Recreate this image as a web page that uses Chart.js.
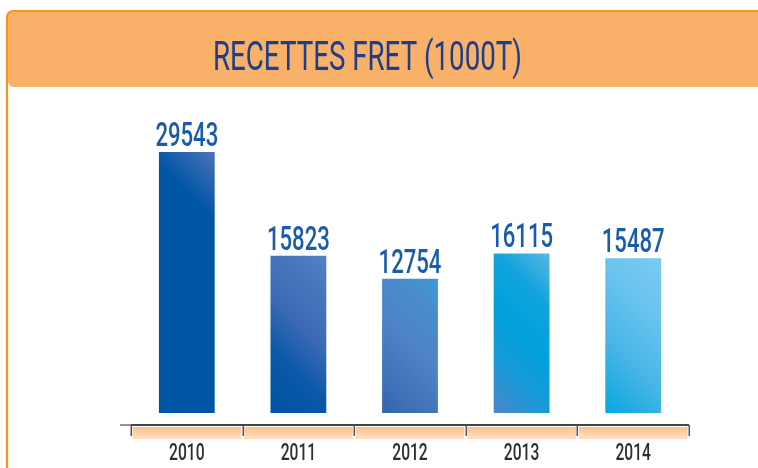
<!DOCTYPE html>
<html>
<head>
<meta charset="utf-8">
<script src="https://cdn.jsdelivr.net/npm/chart.js@4.4.1/dist/chart.umd.min.js"></script>
<style>
html,body{margin:0;padding:0;background:#ffffff;}
canvas{display:block;}
</style>
</head>
<body>
<canvas id="c" width="758" height="468"></canvas>
<script>
// ---- data ----
const chartTitle = 'RECETTES FRET (1000T)';
const years = ['2010', '2011', '2012', '2013', '2014'];
const recettes = [29543, 15823, 12754, 16115, 15487];

// hidden value-axis settings (bars in the source are decorative, start above the axis line)
const barBase = -5000;
const axisMin = -6600;

// ---- styles ----
const barStops = [
  [[0, '#0054A4'], [0.78, '#0055A5'], [1, '#4A74B8']],
  [[0, '#0052A2'], [0.3, '#0A58A8'], [0.55, '#3A6AB4'], [1, '#5381C4']],
  [[0, '#3365AF'], [0.5, '#4D83C5'], [0.8, '#4A8CCB'], [1, '#3A9AD6']],
  [[0, '#4C86C8'], [0.25, '#1A98D6'], [0.5, '#00A0DC'], [0.75, '#12A3DD'], [1, '#5BB6E6']],
  [[0, '#08A6E0'], [0.35, '#45B5E6'], [0.7, '#6AC3EE'], [1, '#7ACBF1']]
];
const BAR_PCT = 0.5;
const FONT = 'Roboto, "Open Sans", "DejaVu Sans", sans-serif';

function condensedText(ctx, text, cx, baseline, font, color, sx) {
  ctx.save();
  ctx.font = font;
  ctx.translate(cx, baseline);
  ctx.scale(sx, 1);
  ctx.textAlign = 'center';
  ctx.textBaseline = 'alphabetic';
  ctx.fillStyle = color;
  ctx.fillText(text, 0, 0);
  ctx.restore();
}

const framePlugin = {
  id: 'frame',
  beforeDraw(chart) {
    const ctx = chart.ctx;
    ctx.save();
    ctx.fillStyle = '#ffffff';
    ctx.fillRect(0, 0, chart.width, chart.height);
    // header band
    const r = 6;
    ctx.fillStyle = '#F9B068';
    ctx.beginPath();
    ctx.moveTo(8, 12);
    ctx.lineTo(chart.width, 12);
    ctx.lineTo(chart.width, 87);
    ctx.lineTo(8 + r, 87);
    ctx.arcTo(8, 87, 8, 87 - r, r);
    ctx.closePath();
    ctx.fill();
    // outer border
    ctx.strokeStyle = '#F7941D';
    ctx.lineWidth = 2.2;
    ctx.beginPath();
    ctx.moveTo(7, chart.height + 2);
    ctx.lineTo(7, 11 + r);
    ctx.arcTo(7, 11, 7 + r, 11, r);
    ctx.lineTo(chart.width + 2, 11);
    ctx.stroke();
    // title
    const tf = '400 40px ' + FONT;
    ctx.font = tf;
    const w = ctx.measureText(chartTitle).width;
    condensedText(ctx, chartTitle, 367.5, 70, tf, '#1C3F8C', 309 / w);
    ctx.restore();
  }
};

const labelPlugin = {
  id: 'valueLabels',
  afterDatasetsDraw(chart) {
    const ctx = chart.ctx;
    const meta = chart.getDatasetMeta(0);
    meta.data.forEach((bar, i) => {
      condensedText(ctx, String(recettes[i]), bar.x, bar.y - 6,
        '500 34px ' + FONT, '#1A5CAA', 0.65);
    });
  }
};

const axisPlugin = {
  id: 'boxAxis',
  afterDraw(chart) {
    const ctx = chart.ctx;
    const xs = chart.scales.x;
    const yAxis = chart.chartArea.bottom;
    const n = years.length;
    const catW = xs.width / n;
    ctx.save();
    // label boxes
    for (let k = 0; k < n; k++) {
      const l = xs.left + k * catW + 1.5;
      const rr = xs.left + (k + 1) * catW - 1.5;
      const g = ctx.createLinearGradient(0, yAxis + 2, 0, yAxis + 14);
      g.addColorStop(0, '#FBC28A');
      g.addColorStop(1, '#FEE0C3');
      ctx.fillStyle = g;
      ctx.fillRect(l, yAxis + 2, rr - l, 12);
    }
    // axis line
    ctx.strokeStyle = '#8a8a8a';
    ctx.lineWidth = 1.8;
    ctx.beginPath();
    ctx.moveTo(xs.left - 11, yAxis);
    ctx.lineTo(xs.left, yAxis);
    ctx.stroke();
    ctx.strokeStyle = '#444444';
    ctx.beginPath();
    ctx.moveTo(xs.left, yAxis);
    ctx.lineTo(xs.right, yAxis);
    ctx.stroke();
    // tick marks at category boundaries
    ctx.strokeStyle = '#555555';
    ctx.lineWidth = 1.5;
    for (let k = 0; k <= n; k++) {
      const x = Math.round(xs.left + k * catW) + 0.25;
      ctx.beginPath();
      ctx.moveTo(x, yAxis);
      ctx.lineTo(x, yAxis + 11);
      ctx.stroke();
    }
    // category labels
    years.forEach((y, i) => {
      condensedText(ctx, y, xs.getPixelForValue(i), yAxis + 35,
        '500 24px ' + FONT, '#2E2E2E', 0.65);
    });
    ctx.restore();
  }
};

function barFill(context) {
  const chart = context.chart;
  const i = context.dataIndex;
  const stops = barStops[i];
  const { chartArea, scales } = chart;
  if (!chartArea || !scales.x || !scales.y) return stops[Math.floor(stops.length / 2)][1];
  const cx = scales.x.getPixelForValue(i);
  const half = scales.x.width / years.length * BAR_PCT / 2;
  const top = scales.y.getPixelForValue(recettes[i]);
  const bottom = scales.y.getPixelForValue(barBase);
  const left = cx - half;
  const span = (2 * half + (bottom - top)) / 2;
  const g = chart.ctx.createLinearGradient(left, bottom, left + span, bottom - span);
  stops.forEach(s => g.addColorStop(s[0], s[1]));
  return g;
}

new Chart(document.getElementById('c'), {
  type: 'bar',
  data: {
    labels: years,
    datasets: [{
      data: recettes,
      base: barBase,
      backgroundColor: barFill,
      borderWidth: 0,
      barPercentage: BAR_PCT,
      categoryPercentage: 1.0
    }]
  },
  options: {
    responsive: false,
    animation: false,
    devicePixelRatio: 1,
    layout: { padding: { left: 131, right: 69, top: 152, bottom: 43 } },
    plugins: { legend: { display: false }, tooltip: { enabled: false }, title: { display: false } },
    scales: {
      x: { display: false, offset: true },
      y: { display: false, min: axisMin, max: Math.max(...recettes) }
    }
  },
  plugins: [framePlugin, labelPlugin, axisPlugin]
});
</script>
</body>
</html>
